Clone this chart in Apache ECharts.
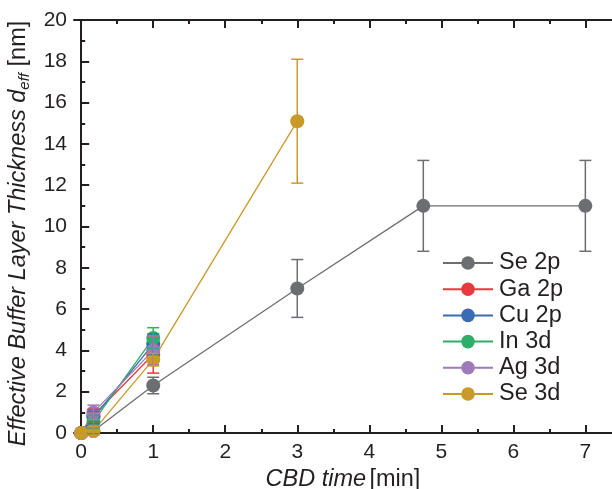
<!DOCTYPE html>
<html>
<head>
<meta charset="utf-8">
<script src="https://cdn.jsdelivr.net/npm/echarts@6/dist/echarts.min.js"></script>
<style>
  html, body { margin: 0; padding: 0; background: #fff; }
  #chart { width: 612px; height: 489px; }
</style>
</head>
<body>
<div id="chart"></div>
<script>
// CBD time [min]
const timesSe2p = [0, 0.17, 1, 3, 4.75, 7];
const timesSe3d = [0, 0.17, 1, 3];
const timesShort = [0, 0.17, 1];

// effective thickness [nm] and error
const se2p = [0, 0.1, 2.3, 7.0, 11.0, 11.0];
const se2pErr = [0, 0.15, 0.4, 1.4, 2.2, 2.2];
const ga2p = [0, 0.85, 3.8];
const ga2pErr = [0, 0.3, 0.9];
const cu2p = [0, 0.75, 4.3];
const cu2pErr = [0, 0.3, 0.5];
const in3d = [0, 0.55, 4.6];
const in3dErr = [0, 0.3, 0.5];
const ag3d = [0, 1.0, 4.0];
const ag3dErr = [0, 0.35, 0.7];
const se3d = [0, 0.1, 3.55, 15.1];
const se3dErr = [0, 0.2, 0.3, 3.0];

const xMajor = [0, 1, 2, 3, 4, 5, 6, 7];
const xMinor = [0.5, 1.5, 2.5, 3.5, 4.5, 5.5, 6.5];

const FONT = "Liberation Sans, Arial, sans-serif";
const AXIS = "#231f20";

const groups = [
  { name: "Se 2p", color: "#6d6e72", x: timesSe2p, y: se2p, e: se2pErr },
  { name: "Ga 2p", color: "#e8393f", x: timesShort, y: ga2p, e: ga2pErr },
  { name: "Cu 2p", color: "#3a6bb5", x: timesShort, y: cu2p, e: cu2pErr },
  { name: "In 3d", color: "#2fae6a", x: timesShort, y: in3d, e: in3dErr },
  { name: "Ag 3d", color: "#9e7ab8", x: timesShort, y: ag3d, e: ag3dErr },
  { name: "Se 3d", color: "#c99a2a", x: timesSe3d, y: se3d, e: se3dErr },
];

const series = [];
groups.forEach(g => {
  series.push({
    name: g.name,
    type: "line",
    data: g.x.map((t, i) => [t, g.y[i]]),
    symbol: "circle",
    symbolSize: 14,
    itemStyle: { color: g.color },
    lineStyle: { color: g.color, width: 1.3 },
    z: 3,
    animation: false,
  });
  // error bars
  series.push({
    name: g.name + " err",
    type: "custom",
    data: g.x.map((t, i) => [t, g.y[i] - g.e[i], g.y[i] + g.e[i]]),
    renderItem: (params, api) => {
      const lo = api.coord([api.value(0), api.value(1)]);
      const hi = api.coord([api.value(0), api.value(2)]);
      const w = 6;
      const style = { stroke: g.color, lineWidth: 1.5, fill: null };
      return {
        type: "group",
        children: [
          { type: "line", shape: { x1: lo[0], y1: lo[1], x2: hi[0], y2: hi[1] }, style },
          { type: "line", shape: { x1: lo[0] - w, y1: lo[1], x2: lo[0] + w, y2: lo[1] }, style },
          { type: "line", shape: { x1: hi[0] - w, y1: hi[1], x2: hi[0] + w, y2: hi[1] }, style },
        ],
      };
    },
    z: 4,
    animation: false,
  });
});

const xCommon = {
  type: "value",
  min: -0.1,
  max: 7.37,
  splitLine: { show: false },
};

const option = {
  backgroundColor: "#ffffff",
  textStyle: { fontFamily: FONT },
  grid: { left: 74, right: 0, top: 20, bottom: 56, outerBoundsMode: "none" },
  legend: {
    data: groups.map(g => g.name),
    orient: "vertical",
    left: 437,
    top: 246,
    padding: 5,
    itemWidth: 50,
    itemHeight: 17,
    itemGap: 2.2,
    textStyle: { fontSize: 23.5, color: "#231f20", fontFamily: FONT, padding: [0, 0, 0, 1] },
  },
  xAxis: [
    Object.assign({}, xCommon, {
      position: "bottom",
      axisLine: { lineStyle: { color: AXIS, width: 2 } },
      axisTick: { inside: true, length: 8, lineStyle: { color: AXIS, width: 2 }, customValues: xMajor },
      axisLabel: { fontSize: 21, color: "#231f20", margin: 9, customValues: xMajor, fontFamily: FONT },
      name: "{i|CBD time} {n|[min]}",
      nameLocation: "middle",
      nameGap: 32,
      nameTextStyle: {
        rich: {
          i: { fontSize: 23.5, fontStyle: "italic", color: "#231f20", fontFamily: FONT },
          n: { fontSize: 23.5, color: "#231f20", fontFamily: FONT },
        },
      },
    }),
    Object.assign({}, xCommon, {
      position: "bottom",
      axisLine: { show: false },
      axisTick: { inside: true, length: 4, lineStyle: { color: AXIS, width: 2 }, customValues: xMinor },
      axisLabel: { show: false },
    }),
    Object.assign({}, xCommon, {
      position: "top",
      axisLine: { lineStyle: { color: AXIS, width: 2 } },
      axisTick: { inside: true, length: 8, lineStyle: { color: AXIS, width: 2 }, customValues: xMajor },
      axisLabel: { show: false },
    }),
    Object.assign({}, xCommon, {
      position: "top",
      axisLine: { show: false },
      axisTick: { inside: true, length: 4, lineStyle: { color: AXIS, width: 2 }, customValues: xMinor },
      axisLabel: { show: false },
    }),
  ],
  yAxis: {
    type: "value",
    min: 0,
    max: 20,
    interval: 2,
    splitLine: { show: false },
    axisLine: { show: true, lineStyle: { color: AXIS, width: 2 } },
    axisTick: { inside: true, length: 8, lineStyle: { color: AXIS, width: 2 } },
    minorTick: { show: true, splitNumber: 2, length: 4, lineStyle: { color: AXIS, width: 2 } },
    axisLabel: { fontSize: 21, color: "#231f20", margin: 7, fontFamily: FONT },
    name: "{i|Effective Buffer Layer Thickness d}{s|eff}{n| [nm]}{p| }",
    nameLocation: "middle",
    nameRotate: 90,
    nameGap: 37,
    nameTextStyle: {
      rich: {
        i: { fontSize: 23.5, fontStyle: "italic", color: "#231f20", fontFamily: FONT, lineHeight: 28 },
        s: { fontSize: 15, fontStyle: "italic", color: "#231f20", fontFamily: FONT, verticalAlign: "bottom", lineHeight: 28, padding: [10, 0, 0, 0] },
        n: { fontSize: 23.5, color: "#231f20", fontFamily: FONT, lineHeight: 28 },
        p: { width: 14, fontSize: 10, lineHeight: 28 },
      },
    },
  },
  series: series,
};

const chart = echarts.init(document.getElementById("chart"));
chart.setOption(option);
</script>
</body>
</html>
